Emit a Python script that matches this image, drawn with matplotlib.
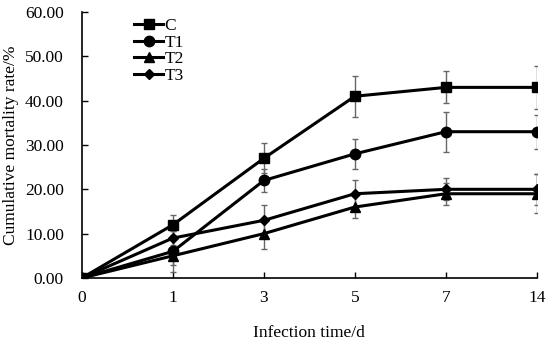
import numpy as np
import matplotlib.pyplot as plt

plt.rcParams['font.family'] = ['Liberation Serif', 'DejaVu Serif']

days = ['0', '1', '3', '5', '7', '14']
c_mean = [0, 12, 27, 41, 43, 43]
c_err = [0, 2.3, 3.4, 4.6, 3.6, 4.8]
t1_mean = [0, 6, 22, 28, 33, 33]
t1_err = [0, 4.6, 2.5, 3.4, 4.5, 3.8]
t2_mean = [0, 5, 10, 16, 19, 19]
t2_err = [0, 2.0, 3.4, 2.4, 2.5, 4.4]
t3_mean = [0, 9, 13, 19, 20, 20]
t3_err = [0, 1.5, 3.4, 3.2, 2.5, 3.5]

fig = plt.figure(figsize=(5.5, 3.44), dpi=100)
ax = fig.add_axes([0.149, 0.192, 0.827, 0.773])

x = np.arange(len(days))
series = [('C', c_mean, c_err, 's'), ('T1', t1_mean, t1_err, 'o'),
          ('T2', t2_mean, t2_err, '^'), ('T3', t3_mean, t3_err, 'D')]
for name, m, e, mk in series:
    ax.errorbar(x, m, yerr=e, fmt='none', ecolor='#666666', elinewidth=1,
                capsize=2.5, capthick=1, zorder=2)
    ms = 5.5 if mk == 'D' else 7.5
    ax.plot(x, m, color='black', lw=2.2, marker=mk, ms=ms, label=name, zorder=3)

ax.set_xlim(0, 5)
ax.set_ylim(0, 60)
ax.set_xticks(x)
ax.set_xticklabels(days)
ax.set_yticks(np.arange(0, 61, 10))
ax.set_yticklabels(['%.2f' % v for v in np.arange(0, 61, 10)])
ax.tick_params(direction='in', length=4, width=1, labelsize=12.5)
ax.tick_params(axis='x', pad=9)
ax.tick_params(axis='y', pad=13)
for s in ['top', 'right']:
    ax.spines[s].set_visible(False)
for s in ['left', 'bottom']:
    ax.spines[s].set_linewidth(1.2)

ax.set_xlabel('Infection time/d', fontsize=12.5, labelpad=13)
ax.set_ylabel('Cumulative mortality rate/%', fontsize=12.5, labelpad=4)

ax.legend(loc='upper left', bbox_to_anchor=(0.095, 1.01), frameon=False,
          fontsize=12.5, handlelength=1.7, handletextpad=0.05, labelspacing=0.02,
          borderpad=0)

fig.savefig('out.png', dpi=100)
